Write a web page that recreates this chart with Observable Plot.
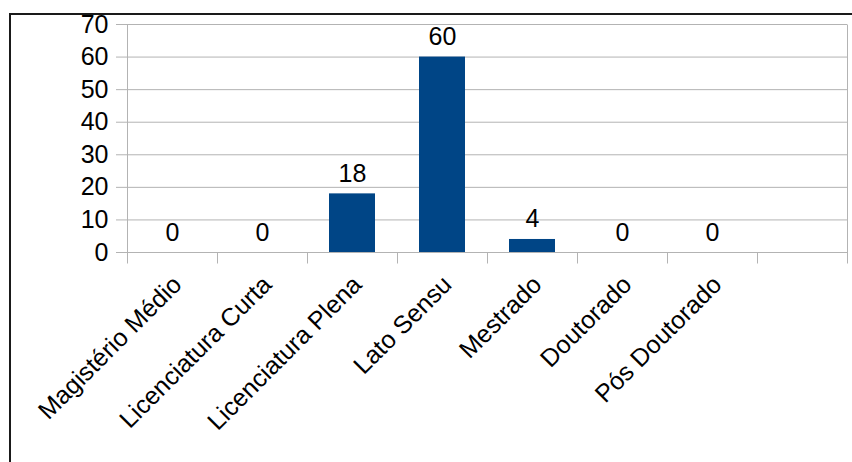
<!DOCTYPE html>
<html>
<head>
<meta charset="utf-8">
<script src="https://cdn.jsdelivr.net/npm/d3@7"></script>
<script src="https://cdn.jsdelivr.net/npm/@observablehq/plot@0.6"></script>
<style>
  body { margin: 0; background: #fff; }
  #wrap { position: relative; width: 852px; height: 462px; overflow: hidden; }
  #wrap svg { position: absolute; left: 0; top: 0; }
  #border { position: absolute; left: 9px; top: 13px; width: 900px; height: 520px;
            border-top: 2px solid #1a1a1a; border-left: 2px solid #1a1a1a; }
</style>
</head>
<body>
<div id="wrap"><div id="border"></div></div>
<script>
// Teachers by highest qualification
const categories = ["Magistério Médio", "Licenciatura Curta", "Licenciatura Plena", "Lato Sensu", "Mestrado", "Doutorado", "Pós Doutorado"];
const counts = [0, 0, 18, 60, 4, 0, 0];
const yTicks = [0, 10, 20, 30, 40, 50, 60, 70];
// an empty trailing slot keeps the axis one category wider than the data
const slots = [...categories, ""];

const data = categories.map((c, i) => ({category: c, count: counts[i]}));

const gridColor = "#b3b3b3";
const barColor = "#004586";
const font = "'Liberation Sans', Arial, sans-serif";
const fs = 25;

const chart = Plot.plot({
  width: 852,
  height: 462,
  marginLeft: 126,
  marginRight: 5,
  marginTop: 24,
  marginBottom: 210,
  style: {fontFamily: font, fontSize: fs + "px", color: "#000", background: "transparent", overflow: "visible"},
  x: {domain: slots, padding: 0},
  y: {domain: [0, 70]},
  marks: [
    Plot.ruleY(yTicks, {stroke: gridColor}),
    Plot.axisY({ticks: yTicks, tickSize: 10, tickPadding: 8, stroke: gridColor, strokeOpacity: 1, fill: "#000", fontSize: fs, label: null}),
    Plot.axisX({tickSize: 0, tickPadding: 28, tickRotate: -45, dx: 5, fill: "#000", fontSize: fs, label: null}),
    Plot.barY(data, {x: "category", y: "count", fill: barColor, insetLeft: 22, insetRight: 22}),
    Plot.text(data, {x: "category", y: "count", text: d => String(d.count), lineAnchor: "bottom", dy: -12, fontSize: fs, fill: "#000"})
  ]
});

// category boundary ticks and the side edges of the plotting area
const sx = chart.scale("x");
const sy = chart.scale("y");
const y0 = sy.apply(0);
const yTop = sy.apply(70);
const edges = slots.map(s => sx.apply(s));
edges.push(edges[edges.length - 1] + sx.bandwidth);
const g = d3.select(chart).append("g").attr("stroke", gridColor).attr("transform", "translate(0.5,0.5)");
edges.forEach((x, i) => {
  const isSide = i === 0 || i === edges.length - 1;
  g.append("line")
    .attr("x1", Math.round(x)).attr("x2", Math.round(x))
    .attr("y1", isSide ? yTop : y0).attr("y2", y0 + 11);
});

document.getElementById("wrap").appendChild(chart);
</script>
</body>
</html>
